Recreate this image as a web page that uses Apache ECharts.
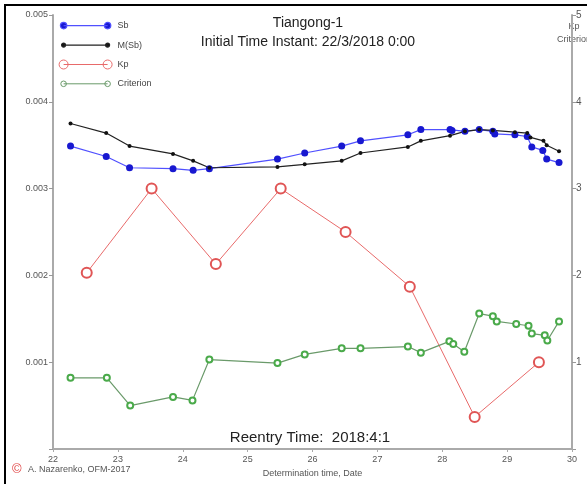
<!DOCTYPE html>
<html><head><meta charset="utf-8">
<script src="https://cdn.jsdelivr.net/npm/echarts@6/dist/echarts.min.js"></script>
<style>html,body{margin:0;padding:0;background:#fff}#c{width:587px;height:484px}</style>
</head><body><div id="c"></div>
<script>
const sbDates = [22.27,22.82,23.18,23.85,24.16,24.41,25.46,25.88,26.45,26.74,27.47,27.67,28.12,28.15,28.35,28.57,28.78,28.81,29.12,29.31,29.38,29.55,29.61,29.80];
const sbValues = [0.00349,0.00337,0.00324,0.00323,0.00321,0.00323,0.00334,0.00341,0.00349,0.00355,0.00362,0.00368,0.00368,0.00367,0.00366,0.00368,0.00366,0.00363,0.00362,0.00360,0.00348,0.00344,0.00334,0.00330];
const msbDates = [22.27,22.82,23.18,23.85,24.16,24.41,25.46,25.88,26.45,26.74,27.47,27.67,28.12,28.35,28.57,28.78,29.12,29.31,29.36,29.56,29.61,29.80];
const msbValues = [0.00375,0.00364,0.00349,0.00340,0.00332,0.00324,0.00325,0.00328,0.00332,0.00341,0.00348,0.00355,0.00361,0.00366,0.00368,0.00367,0.00365,0.00364,0.00359,0.00355,0.00350,0.00343];
const kpDates = [22.52,23.52,24.51,25.51,26.51,27.50,28.50,29.49];
const kpValues = [2.03,3.0,2.13,3.0,2.5,1.87,0.37,1.0];
const critDates = [22.27,22.83,23.19,23.85,24.15,24.41,25.46,25.88,26.45,26.74,27.47,27.67,28.11,28.17,28.34,28.57,28.78,28.84,29.14,29.33,29.38,29.58,29.62,29.80];
const critValues = [0.82,0.82,0.50,0.60,0.56,1.03,0.99,1.09,1.16,1.16,1.18,1.11,1.24,1.21,1.12,1.56,1.53,1.47,1.44,1.42,1.33,1.31,1.25,1.47];
const seriesNames = ['Sb','M(Sb)','Kp','Criterion'];

const pairs = (xs, ys) => xs.map((x, i) => [x, ys[i]]);
const FF = "'Liberation Sans', Arial, sans-serif";
const axisLine = {show: true, lineStyle: {color: '#aaa', width: 2}};

// legend icon: a line with a marker at each end (54 x 10 box)
function iconPath(r) {
  const c = (cx) => `M${cx - r},5 A${r},${r} 0 1,1 ${cx + r},5 A${r},${r} 0 1,1 ${cx - r},5 Z`;
  return `path://M0,0 M54,10 M5,5 L49,5 ${c(5)} ${c(49)}`;
}

const chart = echarts.init(document.getElementById('c'));
chart.setOption({
  animation: false,
  textStyle: {fontFamily: FF},
  grid: {left: 53, right: 15, top: 15, bottom: 35, containLabel: false},
  title: [
    {text: 'Tiangong-1', left: 303, top: 11, textAlign: 'center',
     textStyle: {fontSize: 14, fontWeight: 'normal', color: '#222', fontFamily: FF}},
    {text: 'Initial Time Instant: 22/3/2018 0:00', left: 303, top: 30, textAlign: 'center',
     textStyle: {fontSize: 14, fontWeight: 'normal', color: '#222', fontFamily: FF}},
    {text: 'Reentry Time:  2018:4:1', left: 305, top: 425, textAlign: 'center',
     textStyle: {fontSize: 15, fontWeight: 'normal', color: '#222', fontFamily: FF}}
  ],
  legend: {
    orient: 'vertical', left: 53, top: 15, itemWidth: 54, itemHeight: 10, itemGap: 8.3,
    textStyle: {fontSize: 9, color: '#444', fontFamily: FF},
    data: [
      {name: seriesNames[0], icon: iconPath(3.2), itemStyle: {color: '#1818d0', borderColor: '#5050ff', borderWidth: 1.2}},
      {name: seriesNames[1], icon: iconPath(2), itemStyle: {color: '#111', borderColor: '#222', borderWidth: 1.2}},
      {name: seriesNames[2], icon: iconPath(4.5), itemStyle: {color: '#fff', borderColor: '#e86a6a', borderWidth: 1}},
      {name: seriesNames[3], icon: iconPath(2.8), itemStyle: {color: '#fff', borderColor: '#6a9a6a', borderWidth: 1}}
    ]
  },
  xAxis: {
    type: 'value', min: 22, max: 30, interval: 1,
    name: 'Determination time, Date', nameLocation: 'middle', nameGap: 20,
    nameTextStyle: {fontSize: 9, color: '#555'},
    axisLine: axisLine, axisTick: {show: true, length: 3, lineStyle: {color: '#aaa'}},
    axisLabel: {fontSize: 9, color: '#555', margin: 6},
    splitLine: {show: false}
  },
  yAxis: [
    {type: 'value', min: 0, max: 0.005, interval: 0.001,
     axisLine: axisLine, axisTick: {show: true, length: 4, lineStyle: {color: '#999'}},
     axisLabel: {fontSize: 9, color: '#555', margin: 5, formatter: v => v === 0 ? '' : v.toFixed(3)},
     splitLine: {show: false}},
    {type: 'value', min: 0, max: 5, interval: 1, position: 'right',
     axisLine: axisLine, axisTick: {show: true, length: 4, lineStyle: {color: '#999'}},
     axisLabel: {fontSize: 10, color: '#555', margin: 4, formatter: v => v === 0 ? '' : String(v)},
     splitLine: {show: false}}
  ],
  series: [
    {name: 'Sb', type: 'line', yAxisIndex: 0, data: pairs(sbDates, sbValues),
     symbol: 'circle', symbolSize: 7, lineStyle: {color: '#5050ff', width: 1.2},
     itemStyle: {color: '#1818d0'}},
    {name: 'M(Sb)', type: 'line', yAxisIndex: 0, data: pairs(msbDates, msbValues),
     symbol: 'circle', symbolSize: 4, lineStyle: {color: '#222', width: 1.2},
     itemStyle: {color: '#111'}},
    {name: 'Kp', type: 'line', yAxisIndex: 1, data: pairs(kpDates, kpValues),
     symbol: 'emptyCircle', symbolSize: 10, lineStyle: {color: '#e86a6a', width: 1},
     itemStyle: {color: '#e05555', borderWidth: 1}},
    {name: 'Criterion', type: 'line', yAxisIndex: 1, data: pairs(critDates, critValues),
     symbol: 'emptyCircle', symbolSize: 6, lineStyle: {color: '#6a9a6a', width: 1.2},
     itemStyle: {color: '#4aaa4a', borderWidth: 1}}
  ],
  graphic: [
    {type: 'polyline', shape: {points: [[5, 484], [5, 5], [587, 5]]}, style: {stroke: '#000', lineWidth: 2, fill: null}},
    {type: 'text', style: {text: 'Kp', x: 574, y: 22, fill: '#555', fontSize: 9, fontFamily: FF, textAlign: 'center'}},
    {type: 'text', style: {text: 'Criterion', x: 574, y: 35, fill: '#555', fontSize: 9, fontFamily: FF, textAlign: 'center'}},
    {type: 'text', style: {text: '©', x: 12, y: 463, fill: '#e04040', fontSize: 13, fontFamily: FF}},
    {type: 'text', style: {text: 'A. Nazarenko, OFM-2017', x: 28, y: 465, fill: '#555', fontSize: 9, fontFamily: FF}}
  ]
});
</script></body></html>
